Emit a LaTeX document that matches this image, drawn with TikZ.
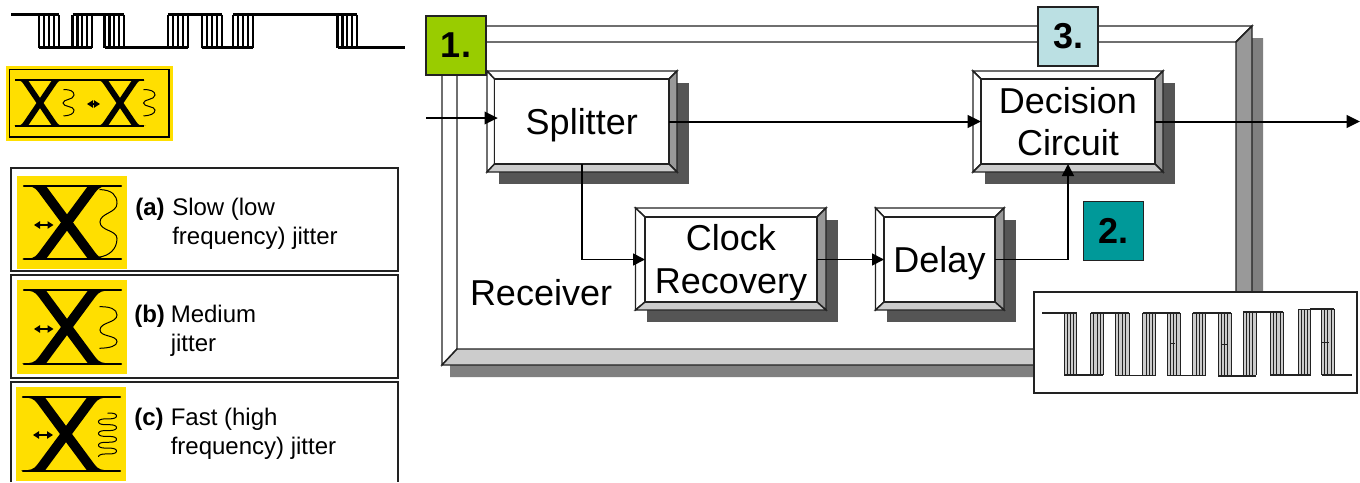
\documentclass[tikz,border=0pt]{standalone}
\usepackage{fontspec}
\setmainfont{Liberation Sans}
\usetikzlibrary{arrows.meta,positioning}
\definecolor{eyeyellow}{HTML}{FFDF00}
\definecolor{tagone}{HTML}{99CC00}
\definecolor{tagtwo}{HTML}{009999}
\definecolor{tagthree}{HTML}{BBE0E3}
\definecolor{boxshadow}{HTML}{555555}
\definecolor{frameshadow}{HTML}{808080}
\definecolor{bevdark}{HTML}{999999}
\definecolor{bevlight}{HTML}{CCCCCC}
\definecolor{lineink}{HTML}{222222}
\tikzset{
  outline/.style={draw=lineink,line width=1.1pt,line join=miter},
  blocktext/.style={font=\fontsize{27}{32}\selectfont,align=center,text=black,inner sep=0pt,outer sep=0pt},
  tag/.style={draw=lineink,line width=1.2pt,minimum width=45pt,minimum height=44.5pt,inner sep=0pt,outer sep=0pt,
    font=\fontsize{27}{32}\selectfont\bfseries,text=black},
  wire/.style={draw=black,line width=1.5pt,-{Triangle[length=10pt,width=9.5pt]}},
  thinwire/.style={draw=black,line width=1.3pt,-{Triangle[length=9pt,width=9pt]}},
  legendtext/.style={font=\fontsize{18}{22}\selectfont,anchor=base west,inner sep=0pt,text=black},
  legendbold/.style={legendtext,font=\fontsize{18}{22}\selectfont\bfseries},
  legendbox/.style={draw=lineink,line width=1.1pt,fill=white},
  wiggle/.style={draw=black,line width=.75pt},
  eyearrow/.style={draw=black,line width=.9pt,{Triangle[length=4.5pt,width=5.5pt]}-{Triangle[length=4.5pt,width=5.5pt]}},
}
% bevelled block: outer corners, inner corners, node style; followed by node name, position, text
\newcommand{\bevelblock}[9]{%
  \def\ax{#1}\def\ay{#2}\def\bx{#3}\def\by{#4}\def\cx{#5}\def\cy{#6}\def\dx{#7}\def\dy{#8}%
  \fill[boxshadow] (\ax+11.5,\ay+12) rectangle (\bx+11.5,\by+12);
  \path[outline,fill=white] (\ax,\ay) -- (\bx,\ay) -- (\dx,\cy) -- (\cx,\cy) -- cycle;
  \path[outline,fill=white] (\ax,\ay) -- (\cx,\cy) -- (\cx,\dy) -- (\ax,\by) -- cycle;
  \path[outline,fill=bevdark] (\bx,\ay) -- (\bx,\by) -- (\dx,\dy) -- (\dx,\cy) -- cycle;
  \path[outline,fill=bevlight] (\ax,\by) -- (\bx,\by) -- (\dx,\dy) -- (\cx,\dy) -- cycle;
  \pgfmathsetmacro{\blockw}{(\dx-\cx)*.75}\pgfmathsetmacro{\blockh}{(\dy-\cy)*.75}%
  \node[#9,outline,fill=white,minimum width=\blockw pt,minimum height=\blockh pt]
}
% one arm pair of the eye crossing
\newcommand{\eyecross}[4]{%
  \begin{scope}[shift={(#1,#2)},xscale=#3,yscale=#4]
    \foreach \mir in {1,-1}{
      \begin{scope}[xscale=\mir]
      \fill[black] (-43,-36.5) .. controls (-36,-36.5) and (-32,-35.5) .. (-28.6,-30.5) -- (21,36.5)
        -- (45,36.5) .. controls (36,36.5) and (32,35.5) .. (28.6,30.5) -- (-21,-36.5) -- cycle;
      \end{scope}
    }
  \end{scope}
}
% striped bit group
\newcommand{\stripes}[5]{% x1,x2,top,bottom,fill
  \fill[#5] (#1,#3) rectangle (#2,#4);
  \foreach \kk in {0,1,2,3,4}{
    \pgfmathsetmacro{\sx}{#1+(#2-#1)*\kk/4}
    \draw (\sx,#3) -- (\sx,#4);
  }
}
\begin{document}
\begin{tikzpicture}[x=.75pt,y=-.75pt]
\useasboundingbox (0,0) rectangle (1360,482);
\clip (0,0) rectangle (1360,482);

% ---- top data pattern
\begin{scope}[line width=1.7pt,draw=black]
  \foreach \pa/\pb in {39/59,72.5/92,104.5/124,168/188,202/222,233/253,337.5/357}{
    \stripes{\pa}{\pb}{14.5}{47.5}{white}
  }
  \draw[line width=2.2pt] (11,14.5) -- (59,14.5) (72.5,14.5) -- (124,14.5) (168,14.5) -- (222,14.5) (233,14.5) -- (357,14.5);
  \draw[line width=2.2pt] (39,47.5) -- (92,47.5) (104.5,47.5) -- (188,47.5) (202,47.5) -- (253,47.5) (337.5,47.5) -- (405,47.5);
\end{scope}

% ---- small yellow eye
\fill[eyeyellow] (6,66) rectangle (173,141);
\draw[black,line width=.8pt] (9.5,69.5) rectangle (169,137);
\eyecross{40}{103}{.58}{.63}
\eyecross{120}{103}{.58}{.63}
\draw[black,line width=1.2pt] (15,80) -- (144,80) (15,126) -- (144,126);
\draw[wiggle] (63.5,89.5) .. controls (70,89.5) and (74,91) .. (74,95) .. controls (74,100) and (63,99) .. (63,103) .. controls (63,107) and (74,106) .. (74,110) .. controls (74,114) and (70,115.5) .. (63.5,116);
\draw[wiggle] (143.5,89.5) .. controls (150,89.5) and (155,91) .. (155,95) .. controls (155,100) and (143.5,99) .. (143.5,103) .. controls (143.5,107) and (155,106) .. (155,110) .. controls (155,114) and (150,115.5) .. (143.5,116);
\draw[eyearrow] (87,104) -- (100,104);

% ---- jitter legend boxes
\draw[legendbox] (11,168) rectangle (398,271);
\draw[legendbox] (11,275) rectangle (398,378);
\draw[legendbox] (11,482) -- (11,382) -- (398,382) -- (398,482);

\fill[eyeyellow] (17,176) rectangle (127,269);
\eyecross{67}{222.5}{1}{1}
\draw[black,line width=1.8pt,line cap=round] (24,186) -- (121,186) (24,259) -- (121,259);
\draw[wiggle] (99.5,189.5) .. controls (112,190) and (117,195) .. (117,203.5) .. controls (117,213) and (100,213) .. (100,222) .. controls (100,231) and (117,230) .. (117,238.5) .. controls (117,250) and (108,256) .. (99.5,257);
\draw[eyearrow] (34,225) -- (53.5,225);

\fill[eyeyellow] (17,280) rectangle (127,374);
\eyecross{67}{327}{1}{1}
\draw[black,line width=1.8pt,line cap=round] (24,290) -- (121,290) (24,364) -- (121,364);
\draw[wiggle] (99.5,306.7) .. controls (110,306.5) and (117,309) .. (117,315) .. controls (117,323) and (100,322) .. (100,330) .. controls (100,337) and (117,335) .. (117,341.7) .. controls (117,346) and (110,348) .. (99.5,348.3);
\draw[eyearrow] (34,329) -- (53.5,329);

\fill[eyeyellow] (16,387) rectangle (126,481);
\eyecross{66}{434}{1}{1}
\draw[black,line width=1.8pt,line cap=round] (23,397) -- (120,397) (23,471) -- (120,471);
\draw[wiggle] plot[smooth,domain=-90:1260,samples=136,variable=\tv] ({107.5+9*cos(\tv)},{413+0.0325*(\tv+90)+0.93*sin(2*\tv)});
\draw[eyearrow] (33,435) -- (53,435);

\node[legendbold] (la) at (135,215) {(a)};
\node[legendtext] (lat) at (172,215) {Slow (low};
\node[legendtext] (lau) at (172,244) {frequency) jitter};
\node[legendbold] (lb) at (134,322) {(b)};
\node[legendtext] (lbt) at (170.5,322) {Medium};
\node[legendtext] (lbu) at (170.5,351) {jitter};
\node[legendbold] (lc) at (134,425) {(c)};
\node[legendtext] (lct) at (170.5,425) {Fast (high};
\node[legendtext] (lcu) at (170.5,454) {frequency) jitter};

% ---- receiver frame
\fill[frameshadow] (1252,38) -- (1263,38) -- (1263,377) -- (450,377) -- (450,365) -- (1252,365) -- cycle;
\path[outline,fill=white] (442,26) -- (1252,26) -- (1236,42) -- (457,42) -- cycle;
\path[outline,fill=white] (442,26) -- (457,42) -- (457,349) -- (442,365) -- cycle;
\path[outline,fill=bevdark] (1252,26) -- (1252,365) -- (1236,349) -- (1236,42) -- cycle;
\path[outline,fill=bevlight] (442,365) -- (1252,365) -- (1236,349) -- (457,349) -- cycle;

% ---- blocks
\bevelblock{487}{71}{677}{172}{494.5}{79}{669}{164}{blocktext}
  (split) at (581.75,121.5) {\rule{0pt}{25.7pt}Splitter};
\bevelblock{973}{71}{1163}{172}{981}{79}{1155}{164}{blocktext}
  (decide) at (1068,121.5) {Decision\\Circuit};
\bevelblock{635.5}{208}{826}{310}{645}{217}{817}{302}{blocktext}
  (clock) at (731,259.5) {\rule{0pt}{24.2pt}Clock\\Recovery};
\bevelblock{875.5}{208}{1004}{310}{884}{217}{995}{302}{blocktext}
  (delay) at (939.5,259.5) {\rule{0pt}{25.7pt}Delay};
\node[blocktext,anchor=base west] (rx) at (470,305) {Receiver};

% ---- numbered tags
\node[tag,fill=tagone] (t1) at (456,45.5) {1.};
\node[tag,fill=tagtwo] (t2) at (1113.5,231) {2.};
\node[tag,fill=tagthree] (t3) at (1068,36.5) {3.};

% ---- output waveform
\fill[white] (1034,292) rectangle (1357,393);
\draw[outline] (1034,292) rectangle (1357,393);
\begin{scope}[line width=.55pt,draw=lineink]
  \foreach \pa/\pb/\pc in {1064/1076.7/313,1090.7/1103.3/313,1115.3/1129/313,1142.7/1155.7/313,1167/1180/313,1192.7/1205.7/313,1218.3/1231/313,1243.3/1256/312,1270/1283.3/312,1298.3/1310.7/309.5,1321.7/1334/309}{
    \stripes{\pa}{\pb}{\pc}{375}{bevlight}
  }
  \draw[line width=1.2pt] (1042,313) -- (1076.7,313);
  \draw[line width=.95pt] (1090.7,313) -- (1129,313) (1142.7,313) -- (1180,313) (1192.7,313) -- (1231,313) (1243.3,312) -- (1283.3,312) (1298.3,309.5) -- (1310.7,309.5) -- (1310.7,309) -- (1334,309);
  \draw[line width=.95pt] (1064,375) -- (1103.3,375) (1115.3,375.5) -- (1155.7,375.5) (1167,375.5) -- (1205.7,375.5) (1218.3,376) -- (1256,376) (1270,375) -- (1310.7,375) (1321.7,375) -- (1351.7,375);
  \draw (1170,343) -- (1175,343) (1222,344) -- (1228,344) (1322,342) -- (1329,342);
\end{scope}

% ---- connectors
\coordinate (in) at (426,118);
\coordinate (out) at (1360,121.5);
\draw[wire,shorten >=-2.5pt] (in) -- (split.west |- in);
\draw[wire] (split.east) -- (decide.west);
\draw[wire] (decide.east) -- (out);
\draw[thinwire] (split.south) -- (split.south |- clock.west) -- (clock.west);
\draw[thinwire] (clock.east) -- (delay.west);
\draw[thinwire] (delay.east) -- (decide.south |- delay.east) -- (decide.south);
\end{tikzpicture}
\end{document}
